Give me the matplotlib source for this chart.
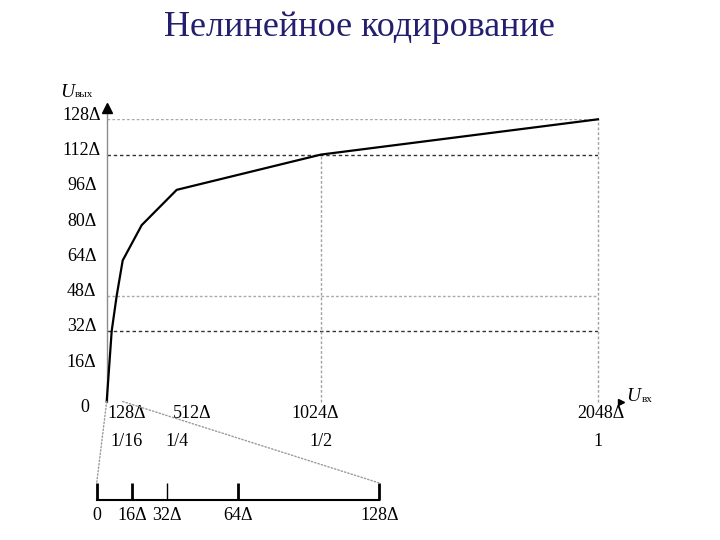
import numpy as np
import matplotlib
matplotlib.use('Agg')
import matplotlib.pyplot as plt
from matplotlib.patches import ConnectionPatch

plt.rcParams['font.family'] = ['Liberation Serif', 'DejaVu Serif']

# characteristic (input in Δ -> output in Δ)
u_in = [0, 16, 32, 64, 128, 256, 512, 1024, 2048]
u_out = [0, 16, 32, 48, 64, 80, 96, 112, 128]

y_ticks = [16, 32, 48, 64, 80, 96, 112, 128]
y_labels = ['16Δ', '32Δ', '48Δ', '64Δ', '80Δ', '96Δ', '112Δ', '128Δ']
x_ticks = [128, 512, 1024, 2048]
x_labels = ['128Δ', '512Δ', '1024Δ', '2048Δ']
x_fracs = ['1/16', '1/4', '1/2', '1']
grid_light = [48, 128]
grid_dark = [32, 112]
vert_lines = [1024, 2048]
vert_tops = [112, 128]

inset_ticks = [0, 16, 32, 64, 128]
inset_labels = ['0', '16Δ', '32Δ', '64Δ', '128Δ']

# the x axis is drawn schematically, not to scale
scale_bp = [0, 16, 32, 64, 128, 256, 512, 1024, 2048]
scale_px = [0, 2.5, 5, 10, 16, 35, 70, 214.3, 491.3]


def fwd(x):
    return np.interp(x, scale_bp, scale_px)


def inv(p):
    return np.interp(p, scale_px, scale_bp)


fig = plt.figure(figsize=(7.2, 5.4), dpi=100)
fig.text(0.499, 0.95, 'Нелинейное кодирование', ha='center', va='center',
         fontsize=26, color='#231f6e')

ax = fig.add_axes([106.7 / 720, 138.5 / 540, 491.3 / 720, 282.2 / 540])
ax.set_xscale('function', functions=(fwd, inv))
ax.set_xlim(0, 2048)
ax.set_ylim(0, 128)
for s in ax.spines.values():
    s.set_visible(False)
ax.set_xticks([])
ax.set_yticks([])

# grid lines
ax.hlines(grid_light, 0, 2048, colors='#aaaaaa', lw=1, linestyles=(0, (2, 1.5)))
ax.hlines(grid_dark, 0, 2048, colors='#333333', lw=1, linestyles=(0, (2.5, 2)))
ax.vlines(vert_lines, 0, vert_tops, colors='#a0a0a0', lw=1, linestyles=(0, (2, 1.5)),
          clip_on=False)

# y axis with arrow
ax.plot([0, 0], [0, 1.035], transform=ax.transAxes, color='#8c8c8c', lw=1, clip_on=False)
ax.plot(0, 1.04, marker='^', ms=7, color='black', transform=ax.transAxes, clip_on=False)
ax.plot(1.047, 0, marker='>', ms=5, color='black', transform=ax.transAxes, clip_on=False)

ax.plot(u_in, u_out, color='black', lw=1.6, clip_on=False, zorder=5)

# tick labels
for v, lab in zip(y_ticks, y_labels):
    ax.annotate(lab, xy=(0, v), xycoords=('axes fraction', 'data'), xytext=(-25, 4),
                textcoords='offset pixels', ha='center', va='center', fontsize=13)

x_dx = [4, 15, -6, 3]
frac_dx = [4, 0, 0, 0]
for v, lab, fr, dx, fdx in zip(x_ticks, x_labels, x_fracs, x_dx, frac_dx):
    ax.annotate(lab, xy=(v, 0), xycoords=('data', 'axes fraction'), xytext=(dx, -11.5),
                textcoords='offset pixels', ha='center', va='center', fontsize=13)
    ax.annotate(fr, xy=(v, 0), xycoords=('data', 'axes fraction'), xytext=(fdx, -39.5),
                textcoords='offset pixels', ha='center', va='center', fontsize=13)
ax.annotate('0', xy=(0, 0), xytext=(-22, -6), textcoords='offset pixels',
            ha='center', va='center', fontsize=13)

# axis names
ax.annotate('U', xy=(0, 1), xycoords='axes fraction', xytext=(-39, 27),
            textcoords='offset pixels', ha='center', va='center', fontsize=14, style='italic')
ax.annotate('вых', xy=(0, 1), xycoords='axes fraction', xytext=(-23, 25),
            textcoords='offset pixels', ha='center', va='center', fontsize=8)
ax.annotate('U', xy=(1, 0), xycoords='axes fraction', xytext=(35, 5),
            textcoords='offset pixels', ha='center', va='center', fontsize=14, style='italic')
ax.annotate('вх', xy=(1, 0), xycoords='axes fraction', xytext=(49, 2),
            textcoords='offset pixels', ha='center', va='center', fontsize=8)

# zoomed scale of the first segment
ax2 = fig.add_axes([96.7 / 720, 40 / 540, 282.6 / 720, 17 / 540])
ax2.set_xlim(0, 128)
ax2.set_ylim(0, 1)
for s in ax2.spines.values():
    s.set_visible(False)
ax2.plot([0, 128], [0, 0], color='black', lw=1.5, clip_on=False)
ax2.vlines(inset_ticks, 0, 1, colors='black', lw=[2, 2, 1, 2, 2], clip_on=False)
ax2.set_yticks([])
ax2.set_xticks(inset_ticks, inset_labels, fontsize=13)
ax2.tick_params(axis='x', length=0, pad=5)

for xa, xb in [(0, 0), (128, 128)]:
    con = ConnectionPatch(xyA=(xa, 0), coordsA=ax.transData, xyB=(xb, 1), coordsB=ax2.transData,
                          color='#9a9a9a', lw=1, linestyle=(0, (1, 1.5)))
    fig.add_artist(con)

fig.savefig('out.png', dpi=100)
